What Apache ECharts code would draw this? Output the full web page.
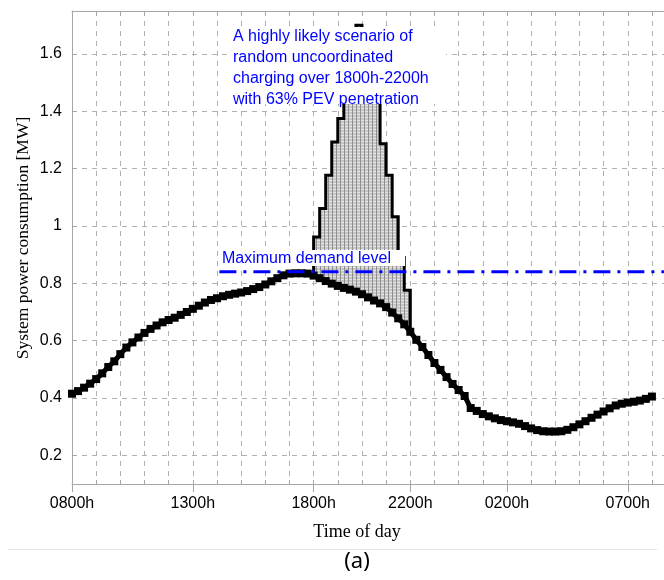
<!DOCTYPE html>
<html>
<head>
<meta charset="utf-8">
<script src="https://cdn.jsdelivr.net/npm/echarts@6/dist/echarts.min.js"></script>
<style>
html,body{margin:0;padding:0;background:#fff;}
#c{width:664px;height:580px;}
</style>
</head>
<body>
<div id="c"></div>
<script>
// Hours after 0800h, 15-minute samples
const hours = [];
for (let i = 0; i <= 96; i++) hours.push(i * 0.25);

// Base system load [MW]
const baseLoad = [
  0.415,0.424,0.436,0.450,0.466,0.486,0.508,0.528,0.553,0.576,0.594,0.611,0.627,0.641,0.653,0.664,
  0.672,0.680,0.690,0.700,0.711,0.722,0.733,0.742,0.748,0.755,0.760,0.764,0.768,0.773,0.780,0.787,
  0.796,0.807,0.818,0.828,0.834,0.835,0.835,0.834,0.827,0.818,0.808,0.799,0.791,0.784,0.778,0.771,
  0.762,0.751,0.740,0.730,0.717,0.698,0.678,0.657,0.631,0.603,0.578,0.550,0.522,0.498,0.473,0.449,
  0.428,0.407,0.365,0.355,0.344,0.336,0.329,0.323,0.319,0.315,0.310,0.302,0.294,0.288,0.284,0.283,
  0.283,0.284,0.289,0.298,0.308,0.319,0.331,0.342,0.353,0.364,0.374,0.380,0.384,0.387,0.391,0.397,
  0.405
];

// PEV charging scenario (1800h-2200h), step values per 15-min interval
const pevStart = [10,10.25,10.5,10.75,11,11.25,11.5,11.75,12,12.25,12.5,12.75,13,13.25,13.5,13.75];
const pevLoad  = [0.962,1.061,1.177,1.293,1.375,1.46,1.58,1.70,1.62,1.53,1.44,1.287,1.177,1.032,0.89,0.776];

// Maximum demand level
const maxDemand = 0.84;
const maxDemandFrom = 6.1;

// Axis tick labels
const xTickHours  = [0,5,10,14,18,23];
const xTickLabels = ['0800h','1300h','1800h','2200h','0200h','0700h'];
const yTicks = [0.2,0.4,0.6,0.8,1,1.2,1.4,1.6];

const X_MAX = 24.5, Y_MIN = 0.1, Y_MAX = 1.75;

// hatch pattern
const pc = document.createElement('canvas');
pc.width = 4; pc.height = 3;
const pctx = pc.getContext('2d');
pctx.fillStyle = '#c6c6c6'; pctx.fillRect(0,0,4,3);
pctx.fillStyle = '#e4e4e4'; pctx.fillRect(0,0,4,1);
pctx.fillStyle = '#8e8e8e'; pctx.fillRect(0,0,1,3);

const chart = echarts.init(document.getElementById('c'));

const gridCol = '#b0b0b0';
const axisCol = '#a6a6a6';

const option = {
  animation: false,
  backgroundColor: '#fff',
  grid: {left: 72, right: 0, top: 11, bottom: 96},
  xAxis: [
    {
      type: 'value', min: 0, max: X_MAX, interval: 1,
      axisLine: {show: true, lineStyle: {color: axisCol, width: 1}},
      axisTick: {show: true, inside: true, length: 4, lineStyle: {color: axisCol}},
      axisLabel: {show: false},
      splitLine: {show: true, lineStyle: {color: gridCol, type: [5,5], width: 1}}
    },
    {
      type: 'value', min: 0, max: X_MAX, position: 'bottom',
      axisLine: {show: false},
      axisTick: {show: true, length: 8, customValues: xTickHours, lineStyle: {color: axisCol}},
      axisLabel: {
        show: true, customValues: xTickHours, margin: 12,
        fontFamily: 'Liberation Sans', fontSize: 16, color: '#000',
        formatter: v => { const i = xTickHours.indexOf(Math.round(v)); return i >= 0 ? xTickLabels[i] : ''; }
      },
      splitLine: {show: false}
    },
    {
      type: 'value', min: 0, max: X_MAX, interval: 1, position: 'top',
      axisLine: {show: true, lineStyle: {color: axisCol}},
      axisTick: {show: true, inside: true, length: 4, lineStyle: {color: axisCol}},
      axisLabel: {show: false}, splitLine: {show: false}
    }
  ],
  yAxis: [
    {
      type: 'value', min: Y_MIN, max: Y_MAX,
      axisLine: {show: true, lineStyle: {color: axisCol}},
      axisTick: {show: true, inside: true, length: 4, customValues: yTicks, lineStyle: {color: axisCol}},
      axisLabel: {show: true, customValues: yTicks, margin: 10, fontFamily: 'Liberation Sans', fontSize: 16, color: '#000'},
      splitLine: {show: true, lineStyle: {color: gridCol, type: [5,5], width: 1}}
    }
  ],
  graphic: [
    {type: 'rect', z: 100, shape: {x: 229, y: 27, width: 217, height: 77}, style: {fill: '#fff'}},
    {type: 'rect', z: 100, shape: {x: 219, y: 250, width: 186, height: 16}, style: {fill: '#fff'}},
    {type: 'text', z: 101, x: 233, y: 37, style: {text: 'A highly likely scenario of', fill: '#0000ff', font: '16px "Liberation Sans"', textVerticalAlign: 'middle'}},
    {type: 'text', z: 101, x: 233, y: 58, style: {text: 'random uncoordinated', fill: '#0000ff', font: '16px "Liberation Sans"', textVerticalAlign: 'middle'}},
    {type: 'text', z: 101, x: 233, y: 79, style: {text: 'charging over 1800h-2200h', fill: '#0000ff', font: '16px "Liberation Sans"', textVerticalAlign: 'middle'}},
    {type: 'text', z: 101, x: 233, y: 100, style: {text: 'with 63% PEV penetration', fill: '#0000ff', font: '16px "Liberation Sans"', textVerticalAlign: 'middle'}},
    {type: 'text', z: 101, x: 222, y: 259, style: {text: 'Maximum demand level', fill: '#0000ff', font: '16px "Liberation Sans"', textVerticalAlign: 'middle'}},
    {type: 'text', z: 101, x: 23, y: 238, rotation: Math.PI/2, style: {text: 'System power consumption [MW]', fill: '#000', font: '17.5px "Liberation Serif"', textAlign: 'center', textVerticalAlign: 'middle'}},
    {type: 'text', z: 101, x: 357, y: 532, style: {text: 'Time of day', fill: '#000', font: '18px "Liberation Serif"', textAlign: 'center', textVerticalAlign: 'middle'}},
    {type: 'line', z: 101, shape: {x1: 8, y1: 549.5, x2: 657, y2: 549.5}, style: {stroke: '#e3e3e3', lineWidth: 1}},
    {type: 'text', z: 101, x: 357, y: 562, style: {text: '(a)', fill: '#000', font: '22px "Noto Sans"', textAlign: 'center', textVerticalAlign: 'middle'}}
  ],
  series: [
    {
      type: 'custom', xAxisIndex: 0, yAxisIndex: 0, z: 3,
      data: [[pevStart[0], pevLoad[0]]],
      renderItem: function (params, api) {
        const pts = [];
        const i0 = hours.indexOf(pevStart[0]);
        const endH = pevStart[pevStart.length - 1] + 0.25;
        const i1 = hours.indexOf(endH);
        pts.push(api.coord([pevStart[0], baseLoad[i0]]));
        for (let k = 0; k < pevStart.length; k++) {
          pts.push(api.coord([pevStart[k], pevLoad[k]]));
          pts.push(api.coord([pevStart[k] + 0.25, pevLoad[k]]));
        }
        for (let i = i1; i >= i0; i--) pts.push(api.coord([hours[i], baseLoad[i]]));
        return {
          type: 'polygon',
          shape: {points: pts},
          style: {fill: {image: pc, repeat: 'repeat'}, stroke: '#000', lineWidth: 3, lineJoin: 'miter'}
        };
      }
    },
    {
      type: 'line', xAxisIndex: 0, yAxisIndex: 0, z: 5,
      data: hours.map((h, i) => [h, baseLoad[i]]),
      symbol: 'rect', symbolSize: 8, showSymbol: true,
      itemStyle: {color: '#000'},
      lineStyle: {color: '#000', width: 5}
    },
    {
      type: 'line', xAxisIndex: 0, yAxisIndex: 0, z: 200,
      data: [[maxDemandFrom, maxDemand], [X_MAX, maxDemand]],
      symbol: 'none',
      lineStyle: {color: '#0000ff', width: 3, type: [17,7,3,7]}
    }
  ]
};
chart.setOption(option);
</script>
</body>
</html>
